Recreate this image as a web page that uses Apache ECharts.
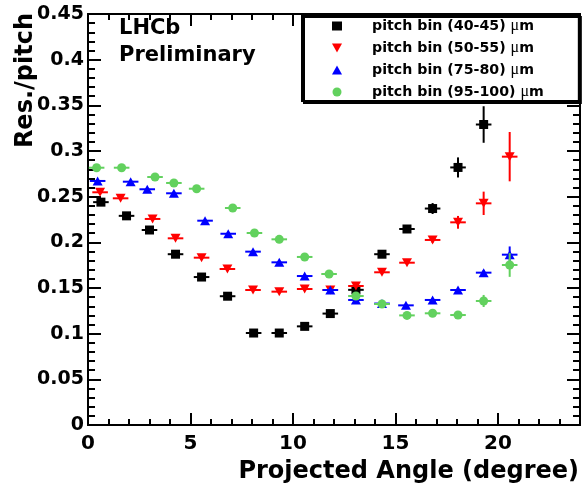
<!DOCTYPE html>
<html>
<head>
<meta charset="utf-8">
<script src="https://cdn.jsdelivr.net/npm/echarts@6/dist/echarts.min.js"></script>
<style>html,body{margin:0;padding:0;background:#fff;}#c{width:582px;height:491px;}</style>
</head>
<body>
<div id="c"></div>
<script>
// ---- data ----
const seriesNames = ['pitch bin (40-45) μm', 'pitch bin (50-55) μm', 'pitch bin (75-80) μm', 'pitch bin (95-100) μm'];

const x40 = [0.63, 1.88, 3.00, 4.27, 5.54, 6.81, 8.08, 9.33, 10.57, 11.82, 13.07, 14.34, 15.56, 16.81, 18.05, 19.30];
const y40 = [0.244, 0.229, 0.2135, 0.187, 0.162, 0.141, 0.1007, 0.1007, 0.108, 0.122, 0.148, 0.187, 0.2146, 0.237, 0.282, 0.329];
const e40 = [0.002, 0.002, 0.002, 0.002, 0.002, 0.002, 0.002, 0.002, 0.002, 0.002, 0.002, 0.002, 0.003, 0.006, 0.011, 0.020];

const x50 = [0.59, 1.59, 3.15, 4.27, 5.54, 6.80, 8.05, 9.33, 10.57, 11.82, 13.07, 14.34, 15.56, 16.81, 18.05, 19.30, 20.57];
const y50 = [0.2548, 0.2482, 0.2256, 0.2044, 0.1832, 0.1708, 0.1478, 0.146, 0.1489, 0.1478, 0.1522, 0.1672, 0.1777, 0.2026, 0.2219, 0.2427, 0.2938];
const e50 = [0.002, 0.002, 0.002, 0.002, 0.002, 0.002, 0.002, 0.002, 0.002, 0.002, 0.002, 0.002, 0.002, 0.003, 0.007, 0.0128, 0.027];

const x75 = [0.47, 2.08, 2.89, 4.19, 5.71, 6.84, 8.05, 9.33, 10.57, 11.82, 13.07, 14.34, 15.51, 16.81, 18.05, 19.30, 20.57];
const y75 = [0.2672, 0.2664, 0.2581, 0.2537, 0.2237, 0.2094, 0.1898, 0.1781, 0.1631, 0.1478, 0.1369, 0.133, 0.1310, 0.1369, 0.1478, 0.1668, 0.1865];
const e75 = [0.002, 0.002, 0.002, 0.002, 0.002, 0.002, 0.002, 0.002, 0.002, 0.002, 0.002, 0.002, 0.002, 0.002, 0.002, 0.003, 0.009];

const x95 = [0.42, 1.64, 3.27, 4.19, 5.30, 7.06, 8.12, 9.33, 10.57, 11.76, 13.07, 14.34, 15.56, 16.81, 18.05, 19.30, 20.57];
const y95 = [0.2817, 0.2817, 0.2715, 0.265, 0.2587, 0.2376, 0.2102, 0.2033, 0.184, 0.1653, 0.1412, 0.1325, 0.1200, 0.1223, 0.1204, 0.1358, 0.1752];
const e95 = [0.002, 0.002, 0.002, 0.002, 0.002, 0.002, 0.002, 0.002, 0.002, 0.002, 0.002, 0.002, 0.002, 0.002, 0.002, 0.0066, 0.013];

const xHalfWidth = 0.38;

const xTitle = 'Projected Angle (degree)';
const yTitle = 'Res./pitch';
const labelText = 'LHCb\nPreliminary';

// ---- styling ----
const FONT = '"DejaVu Sans", sans-serif';
const colors = ['#000000', '#ff0000', '#0000ff', '#62d15e'];
const symbols = ['rect', 'path://M0,0L10,0L5,9Z', 'triangle', 'circle'];
const symbolSizes = [9, [10, 9], [10, 9], 9];
const xs = [x40, x50, x75, x95];
const ys = [y40, y50, y75, y95];
const es = [e40, e50, e75, e95];

function renderErr(params, api) {
  const x = api.value(0), y = api.value(1), ex = api.value(2), ey = api.value(3);
  const pL = api.coord([x - ex, y]), pR = api.coord([x + ex, y]);
  const pB = api.coord([x, y - ey]), pT = api.coord([x, y + ey]);
  const st = { stroke: api.visual('color'), lineWidth: 2 };
  return {
    type: 'group',
    children: [
      { type: 'line', shape: { x1: pL[0], y1: pL[1], x2: pR[0], y2: pR[1] }, style: st },
      { type: 'line', shape: { x1: pB[0], y1: pB[1], x2: pT[0], y2: pT[1] }, style: st }
    ]
  };
}

const series = [];
for (let i = 0; i < 4; i++) {
  const pts = xs[i].map((v, k) => [v, ys[i][k]]);
  const errs = xs[i].map((v, k) => [v, ys[i][k], xHalfWidth, es[i][k]]);
  series.push({
    type: 'custom', name: seriesNames[i] + ' errors', renderItem: renderErr,
    data: errs, encode: { x: 0, y: 1 }, itemStyle: { color: colors[i] },
    z: 2 + 2 * i, silent: true, animation: false
  });
  series.push({
    type: 'scatter', name: seriesNames[i], data: pts,
    symbol: symbols[i], symbolSize: symbolSizes[i],
    itemStyle: { color: colors[i], opacity: 1 },
    z: 3 + 2 * i, silent: true, animation: false
  });
}

const lineStyle = { color: '#000', width: 2 };
function xAx(pos, interval, tickLen, showLabel) {
  return {
    type: 'value', position: pos, min: 0, max: 24, interval: interval,
    axisLine: { show: true, onZero: false, lineStyle: lineStyle },
    axisTick: { show: true, inside: true, length: tickLen, lineStyle: lineStyle },
    splitLine: { show: false },
    axisLabel: { show: showLabel, showMaxLabel: false, margin: 9, color: '#000',
      fontFamily: FONT, fontWeight: 'bold', fontSize: 20 }
  };
}
function yAx(pos, showLabel) {
  return {
    type: 'value', position: pos, min: 0, max: 0.45, interval: 0.05,
    axisLine: { show: true, onZero: false, lineStyle: lineStyle },
    axisTick: { show: true, inside: true, length: 13, lineStyle: lineStyle },
    minorTick: { show: true, splitNumber: 5, length: 7, lineStyle: { color: '#000', width: 2 } },
    splitLine: { show: false }, minorSplitLine: { show: false },
    axisLabel: { show: showLabel, margin: 4, color: '#000',
      fontFamily: FONT, fontWeight: 'bold', fontSize: 19 }
  };
}

const chart = echarts.init(document.getElementById('c'), null, { renderer: 'canvas' });
chart.setOption({
  animation: false,
  backgroundColor: '#fff',
  grid: { left: 88, right: 2, top: 14, bottom: 66 },
  title: {
    text: labelText, left: 119, top: 15, padding: 0,
    textStyle: { fontFamily: FONT, fontWeight: 'bold', fontSize: 21, lineHeight: 27, color: '#000' }
  },
  legend: {
    orient: 'vertical', left: 302, top: 15,
    data: seriesNames,
    itemWidth: 10, itemHeight: 9, itemGap: 6,
    padding: [3, 35, 1, 30],
    backgroundColor: '#fff', borderColor: '#000', borderWidth: 2, borderRadius: 0,
    shadowColor: '#000', shadowBlur: 0, shadowOffsetX: 2, shadowOffsetY: 2,
    selectedMode: false,
    formatter: function (n) { return n.replace('μ', '{mu|μ}'); },
    textStyle: {
      fontFamily: FONT, fontWeight: 'bold', fontSize: 14.2, lineHeight: 16, color: '#000',
      padding: [0, 0, 0, 25],
      rich: { mu: { fontFamily: '"Liberation Serif", serif', fontWeight: 'normal', fontSize: 16, lineHeight: 16, color: '#000' } }
    }
  },
  xAxis: [
    xAx('bottom', 5, 12, true),
    xAx('bottom', 1, 6, false),
    xAx('top', 5, 12, false),
    xAx('top', 1, 6, false)
  ],
  yAxis: [yAx('left', true), yAx('right', false)],
  graphic: [
    { type: 'text', x: 579, y: 472, silent: true,
      style: { text: xTitle, font: 'bold 24px ' + FONT, fill: '#000',
        align: 'right', verticalAlign: 'middle', textAlign: 'right', textVerticalAlign: 'middle' } },
    { type: 'text', x: 26, y: 13, rotation: Math.PI / 2, silent: true,
      style: { text: yTitle, font: 'bold 24px ' + FONT, fill: '#000',
        align: 'right', verticalAlign: 'middle', textAlign: 'right', textVerticalAlign: 'middle' } }
  ],
  series: series
});
</script>
</body>
</html>
